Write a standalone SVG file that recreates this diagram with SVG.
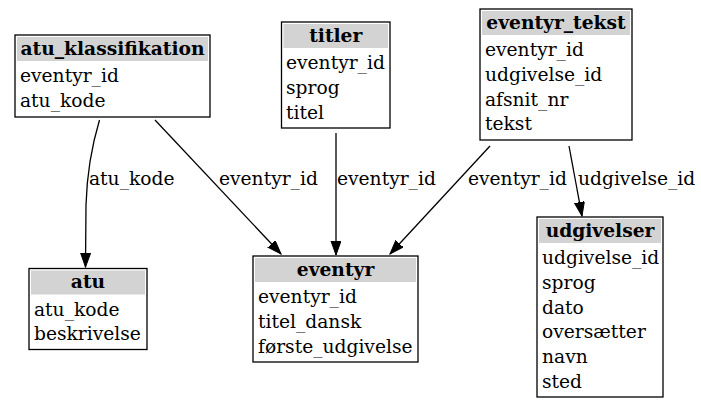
<svg xmlns="http://www.w3.org/2000/svg" width="701" height="409" viewBox="0 0 701 409">
<style>
  .box { fill: #ffffff; stroke: #000000; stroke-width: 1.3; }
  .hdr { fill: #d3d3d3; stroke: none; }
  .ht { font-family: "DejaVu Serif", serif; font-weight: bold; font-size: 18.67px; text-anchor: middle; fill: #000; }
  .rt { font-family: "DejaVu Serif", serif; font-size: 18.67px; fill: #000; }
  .lbl { font-family: "DejaVu Serif", serif; font-size: 18.67px; fill: #000; }
  .edge { fill: none; stroke: #000000; stroke-width: 1.3; }
</style>
<defs>
  <marker id="arr" markerUnits="userSpaceOnUse" markerWidth="16" markerHeight="12" refX="14" refY="5" orient="auto">
    <polygon points="0,0 14,5 0,10" fill="#000" stroke="#000" stroke-width="1"/>
  </marker>
</defs>
<rect width="701" height="409" fill="#ffffff"/>

<g id="atu_klassifikation">
  <rect class="box" x="15" y="35" width="195" height="82"/>
  <rect class="hdr" x="17" y="37" width="191" height="24"/>
  <text class="ht" x="112.5" y="54.5">atu_klassifikation</text>
  <text class="rt" x="20" y="82">eventyr_id</text>
  <text class="rt" x="20" y="106.8">atu_kode</text>
</g>

<g id="titler">
  <rect class="box" x="281.5" y="22" width="108.5" height="106"/>
  <rect class="hdr" x="283.5" y="24" width="104.5" height="24"/>
  <text class="ht" x="335.75" y="41.5">titler</text>
  <text class="rt" x="286" y="69">eventyr_id</text>
  <text class="rt" x="286" y="93.8">sprog</text>
  <text class="rt" x="286" y="118.5">titel</text>
</g>

<g id="eventyr_tekst">
  <rect class="box" x="480" y="9" width="152" height="131"/>
  <rect class="hdr" x="482" y="11" width="148" height="24"/>
  <text class="ht" x="556" y="28.5">eventyr_tekst</text>
  <text class="rt" x="485" y="56">eventyr_id</text>
  <text class="rt" x="485" y="80.8">udgivelse_id</text>
  <text class="rt" x="485" y="105.5">afsnit_nr</text>
  <text class="rt" x="485" y="130.3">tekst</text>
</g>

<g id="atu">
  <rect class="box" x="29" y="268.5" width="118" height="81"/>
  <rect class="hdr" x="31" y="270.5" width="114" height="24"/>
  <text class="ht" x="88" y="288">atu</text>
  <text class="rt" x="34" y="315.5">atu_kode</text>
  <text class="rt" x="34" y="340.3">beskrivelse</text>
</g>

<g id="eventyr">
  <rect class="box" x="253" y="256" width="165" height="106"/>
  <rect class="hdr" x="255" y="258" width="161" height="24"/>
  <text class="ht" x="335.5" y="275.5">eventyr</text>
  <text class="rt" x="258" y="303">eventyr_id</text>
  <text class="rt" x="258" y="327.8">titel_dansk</text>
  <text class="rt" x="258" y="352.5">første_udgivelse</text>
</g>

<g id="udgivelser">
  <rect class="box" x="537" y="217" width="126" height="180"/>
  <rect class="hdr" x="539" y="219" width="122" height="24"/>
  <text class="ht" x="600" y="236.5">udgivelser</text>
  <text class="rt" x="542" y="264">udgivelse_id</text>
  <text class="rt" x="542" y="288.8">sprog</text>
  <text class="rt" x="542" y="313.5">dato</text>
  <text class="rt" x="542" y="338.3">oversætter</text>
  <text class="rt" x="542" y="363">navn</text>
  <text class="rt" x="542" y="387.8">sted</text>
</g>

<g id="connectors">
  <path class="edge" d="M99.5,120 C92,145 87,170 86,205 L85.5,267" marker-end="url(#arr)"/>
  <text class="lbl" x="89" y="185">atu_kode</text>
  <path class="edge" d="M155,120 L281,254" marker-end="url(#arr)"/>
  <text class="lbl" x="219" y="185">eventyr_id</text>
  <path class="edge" d="M336,133 L336,255" marker-end="url(#arr)"/>
  <text class="lbl" x="337" y="185">eventyr_id</text>
  <path class="edge" d="M490,146 L390,254" marker-end="url(#arr)"/>
  <text class="lbl" x="468" y="185">eventyr_id</text>
  <path class="edge" d="M569,146 L582,216" marker-end="url(#arr)"/>
  <text class="lbl" x="578" y="185">udgivelse_id</text>
</g>
</svg>
